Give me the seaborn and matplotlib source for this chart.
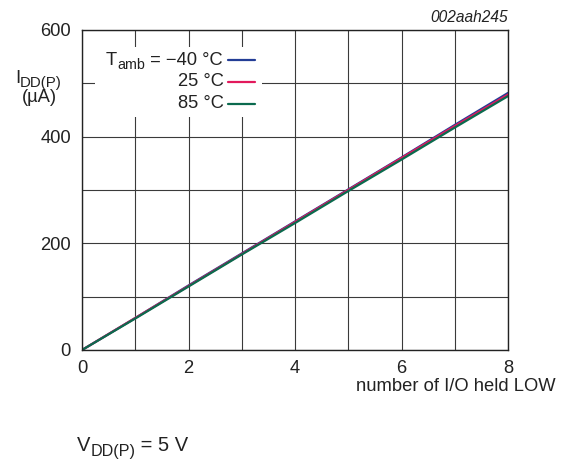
import matplotlib
matplotlib.use("Agg")
import matplotlib.pyplot as plt
import seaborn as sns
import pandas as pd
from matplotlib.patches import Rectangle
from matplotlib.lines import Line2D

# ---- data ----
n_io = [0, 1, 2, 3, 4, 5, 6, 7, 8]
i_m40 = [0, 60, 121, 181, 241, 301, 361, 422, 482]
i_25 = [0, 60, 120, 180, 240, 300, 360, 420, 479]
i_85 = [0, 59, 119, 179, 238, 298, 357, 417, 476]
temps = ["−40 °C", "25 °C", "85 °C"]
colors = ["#233d96", "#e2195c", "#0b6a4e"]
x_ticks = [0, 2, 4, 6, 8]
y_ticks = [0, 200, 400, 600]

rows = []
for t, vals in zip(temps, [i_m40, i_25, i_85]):
    for x, y in zip(n_io, vals):
        rows.append({"n": x, "I": y, "T": t})
df = pd.DataFrame(rows)

sns.set_theme(style="white")
plt.rcParams["font.family"] = ["Liberation Sans", "DejaVu Sans"]

FS = 13.2
TC = "#222222"
W, H = 566, 461
fig = plt.figure(figsize=(5.66, 4.61), dpi=100)
ax = fig.add_axes([82/W, 1-350/H, (508-82)/W, (350-30)/H])
renderer = fig.canvas.get_renderer()

sns.lineplot(data=df, x="n", y="I", hue="T", palette=colors, hue_order=temps,
             linewidth=1.6, ax=ax, legend=False)

ax.set_xlim(0, 8)
ax.set_ylim(0, 600)
ax.set_xticks(x_ticks)
ax.set_yticks(y_ticks)
ax.set_xticks(range(0, 9), minor=True)
ax.set_yticks(range(0, 601, 100), minor=True)
ax.grid(True, which="both", color="#3a3a3a", linewidth=0.8)
ax.set_axisbelow(True)
ax.tick_params(which="both", length=0, labelsize=FS, colors=TC)
ax.tick_params(axis="x", pad=7)
ax.tick_params(axis="y", pad=8)
for s in ax.spines.values():
    s.set_color(TC)
    s.set_linewidth(1.0)
    s.set_visible(True)
ax.set_xlabel("")
ax.set_ylabel("")


def compose(x_px, base_px, parts, zorder=5):
    """parts: list of (text, fontsize, drop_px). x_px, base_px in image pixel coords (top-left origin)."""
    x = x_px
    for txt, fs, drop in parts:
        t = fig.text(x / W, 1 - (base_px + drop) / H, txt, ha="left", va="baseline",
                     fontsize=fs, color=TC, zorder=zorder)
        x += t.get_window_extent(renderer).width
    return x


# legend (manual, white background)
ax.add_patch(Rectangle(((95-82)/426, (350-117)/320), (262-95)/426, (117-47)/320,
                       transform=ax.transAxes, facecolor="white", edgecolor="none", zorder=2))
leg_rows_y = [60, 82, 104]
for yy, c in zip(leg_rows_y, colors):
    ya = (350-yy)/320
    ax.add_line(Line2D([(228-82)/426, (255-82)/426], [ya, ya], transform=ax.transAxes,
                       color=c, linewidth=1.6, zorder=3))
compose(106, 65, [("T", FS, 0), ("amb", FS*0.78, 4), (" = −40 °C", FS, 0)])
for yy, lab in zip(leg_rows_y[1:], temps[1:]):
    ax.text((224-82)/426, (350-yy)/320, lab, transform=ax.transAxes, ha="right", va="center",
            fontsize=FS, color=TC, zorder=3)

# y label
compose(15, 83, [("I", FS, 0), ("DD(P)", FS*0.82, 4)])
fig.text(39/W, 1-98/H, "(µA)", ha="center", va="center", fontsize=FS, color=TC)

fig.text(556/W, 1-386/H, "number of I/O held LOW", ha="right", va="center",
         fontsize=FS, color=TC)
fig.text(508/W, 1-18/H, "002aah245", ha="right", va="center", style="italic",
         fontsize=11.2, color=TC)
compose(77, 451, [("V", 14.5, 0), ("DD(P)", 14.5*0.8, 5), (" = 5 V", 14.5, 0)])

fig.savefig("out.png", dpi=100, facecolor="white")
